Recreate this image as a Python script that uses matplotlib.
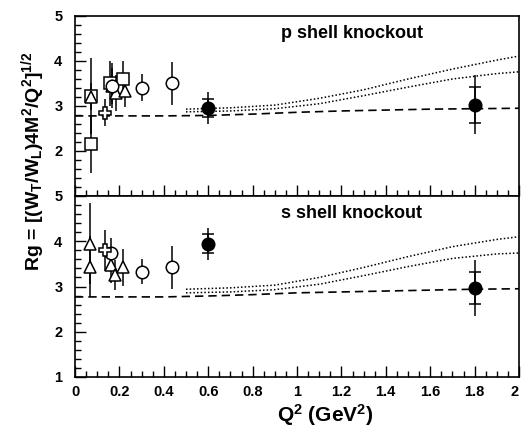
import matplotlib
matplotlib.use("Agg")
import matplotlib.pyplot as plt
from matplotlib.ticker import MultipleLocator, FixedLocator

plt.rcParams['font.family'] = ['Liberation Sans', 'DejaVu Sans']
plt.rcParams['font.weight'] = 'bold'
plt.rcParams['mathtext.fontset'] = 'custom'
plt.rcParams['mathtext.rm'] = 'Liberation Sans:bold'
plt.rcParams['mathtext.bf'] = 'Liberation Sans:bold'
plt.rcParams['mathtext.it'] = 'Liberation Sans:bold'
plt.rcParams['mathtext.default'] = 'bf'

# ---------------- data: p shell knockout ----------------
p_sq_x = [0.07, 0.07, 0.157, 0.217]
p_sq_y = [3.22, 2.15, 3.50, 3.60]
p_sq_e = [0.85, 0.65, 0.50, 0.40]

p_tri_x = [0.07, 0.165, 0.185, 0.225]
p_tri_y = [3.20, 3.45, 3.28, 3.33]
p_tri_e = [0.30, 0.50, 0.40, 0.35]

p_circ_x = [0.165, 0.30, 0.435]
p_circ_y = [3.45, 3.40, 3.50]
p_circ_e = [0.40, 0.30, 0.48]

p_cross_x = [0.135]
p_cross_y = [2.85]
p_cross_e = [0.30]

p_fill_x = [0.6, 1.8]
p_fill_y = [2.96, 3.03]
p_fill_stat = [0.20, 0.40]
p_fill_tot = [0.35, 0.66]

# ---------------- data: s shell knockout ----------------
s_tri_x = [0.067, 0.067, 0.16, 0.18, 0.217]
s_tri_y = [3.95, 3.44, 3.47, 3.25, 3.42]
s_tri_e = [0.90, 0.67, 0.40, 0.33, 0.40]

s_circ_x = [0.16, 0.30, 0.435]
s_circ_y = [3.73, 3.33, 3.42]
s_circ_e = [0.35, 0.27, 0.48]

s_cross_x = [0.135]
s_cross_y = [3.80]
s_cross_e = [0.45]

s_fill_x = [0.6, 1.8]
s_fill_y = [3.94, 2.97]
s_fill_stat = [0.21, 0.35]
s_fill_tot = [0.36, 0.62]

# ---------------- model curves ----------------
dash_x = [0.0, 0.2, 0.4, 0.6, 0.8, 1.0, 1.2, 1.4, 1.6, 1.8, 2.0]
p_dash_y = [2.78, 2.78, 2.78, 2.79, 2.82, 2.86, 2.89, 2.91, 2.93, 2.94, 2.95]
s_dash_y = [2.77, 2.77, 2.77, 2.79, 2.82, 2.86, 2.88, 2.90, 2.92, 2.94, 2.95]

dot_x = [0.5, 0.7, 0.9, 1.1, 1.3, 1.5, 1.7, 1.9, 2.0]
p_dot_hi = [2.93, 2.96, 3.02, 3.17, 3.36, 3.60, 3.82, 4.02, 4.11]
p_dot_lo = [2.87, 2.89, 2.94, 3.05, 3.23, 3.42, 3.60, 3.72, 3.76]
s_dot_hi = [2.94, 2.97, 3.03, 3.20, 3.42, 3.66, 3.88, 4.04, 4.10]
s_dot_lo = [2.86, 2.88, 2.93, 3.05, 3.24, 3.44, 3.62, 3.72, 3.74]

panel_titles = ['p shell knockout', 's shell knockout']
xticks = [0, 0.2, 0.4, 0.6, 0.8, 1.0, 1.2, 1.4, 1.6, 1.8, 2.0]
xticklabels = ['0', '0.2', '0.4', '0.6', '0.8', '1', '1.2', '1.4', '1.6', '1.8', '2']
yticks = [1, 2, 3, 4, 5]

fig = plt.figure(figsize=(5.21, 4.30), dpi=100)
W, H = 521, 430
L, R = 75, 519
ax_top = fig.add_axes([L / W, 1 - 196 / H, (R - L) / W, (196 - 16) / H])
ax_bot = fig.add_axes([L / W, 1 - 377 / H, (R - L) / W, (377 - 196) / H])

ms = 8.5
ebkw = dict(ls='none', color='black', ecolor='black', elinewidth=1.1,
            capsize=0, markeredgewidth=1.1)


def draw_panel(ax, sq, tri, circ, cross, fill, dash_y, dhi, dlo, title):
    ax.plot(dash_x, dash_y, color='black', lw=1.2, ls=(0, (5, 3)))
    ax.plot(dot_x, dhi, color='black', lw=1.1, ls=(0, (1, 1.4)))
    ax.plot(dot_x, dlo, color='black', lw=1.1, ls=(0, (1, 1.4)))
    if sq is not None:
        ax.errorbar(sq[0], sq[1], yerr=sq[2], marker='s', ms=ms,
                    mfc='white', mec='black', **ebkw)
    ax.errorbar(tri[0], tri[1], yerr=tri[2], marker='^', ms=ms,
                mfc='white', mec='black', **ebkw)
    ax.errorbar(circ[0], circ[1], yerr=circ[2], marker='o', ms=ms + 0.5,
                mfc='white', mec='black', **ebkw)
    ax.errorbar(cross[0], cross[1], yerr=cross[2], marker='P', ms=ms,
                mfc='white', mec='black', **ebkw)
    ax.errorbar(fill[0], fill[1], yerr=fill[3], marker='o', ms=ms + 0.5,
                mfc='black', mec='black', **ebkw)
    ax.errorbar(fill[0], fill[1], yerr=fill[2], marker='none',
                ls='none', ecolor='black', elinewidth=1.1, capsize=4.5,
                capthick=1.1)
    ax.text(0.93, 4.62, title, fontsize=13, fontweight='bold',
            ha='left', va='center')

    ax.set_xlim(0, 2)
    ax.set_ylim(1, 5)
    ax.xaxis.set_major_locator(FixedLocator(xticks))
    ax.xaxis.set_minor_locator(MultipleLocator(0.05))
    ax.yaxis.set_major_locator(FixedLocator(yticks))
    ax.yaxis.set_minor_locator(MultipleLocator(0.2))
    ax.tick_params(which='both', direction='in', top=False, right=False,
                   width=1.0)
    ax.tick_params(which='major', length=8)
    ax.tick_params(which='minor', length=4.5)
    ax.tick_params(axis='y', which='major', pad=9, labelsize=10.5)
    ax.tick_params(axis='x', which='major', pad=6, labelsize=10.5)
    for sp in ax.spines.values():
        sp.set_linewidth(1.2)


draw_panel(ax_top, (p_sq_x, p_sq_y, p_sq_e), (p_tri_x, p_tri_y, p_tri_e),
           (p_circ_x, p_circ_y, p_circ_e), (p_cross_x, p_cross_y, p_cross_e),
           (p_fill_x, p_fill_y, p_fill_stat, p_fill_tot),
           p_dash_y, p_dot_hi, p_dot_lo, panel_titles[0])
draw_panel(ax_bot, None, (s_tri_x, s_tri_y, s_tri_e),
           (s_circ_x, s_circ_y, s_circ_e), (s_cross_x, s_cross_y, s_cross_e),
           (s_fill_x, s_fill_y, s_fill_stat, s_fill_tot),
           s_dash_y, s_dot_hi, s_dot_lo, panel_titles[1])

ax_top.set_xticklabels([])
ax_top.set_yticklabels(['', '2', '3', '4', '5'])
ax_bot.set_xticklabels(xticklabels)
ax_bot.set_yticklabels(['1', '2', '3', '4', '5'])
ax_bot.get_xticklabels()[-1].set_horizontalalignment('right')

fig.text(33 / W, 1 - 161 / H,
         r'Rg = [(W$_\mathbf{T}$/W$_\mathbf{L}$)4M$^\mathbf{2}$/Q$^\mathbf{2}$]$^\mathbf{1/2}$',
         rotation=90, ha='center', va='center', fontsize=14, fontweight='bold')
fig.text(325 / W, 1 - 415 / H, r'Q$^\mathbf{2}$ (GeV$^\mathbf{2}$)',
         ha='center', va='center', fontsize=15, fontweight='bold')

fig.savefig('out.png', dpi=100)
